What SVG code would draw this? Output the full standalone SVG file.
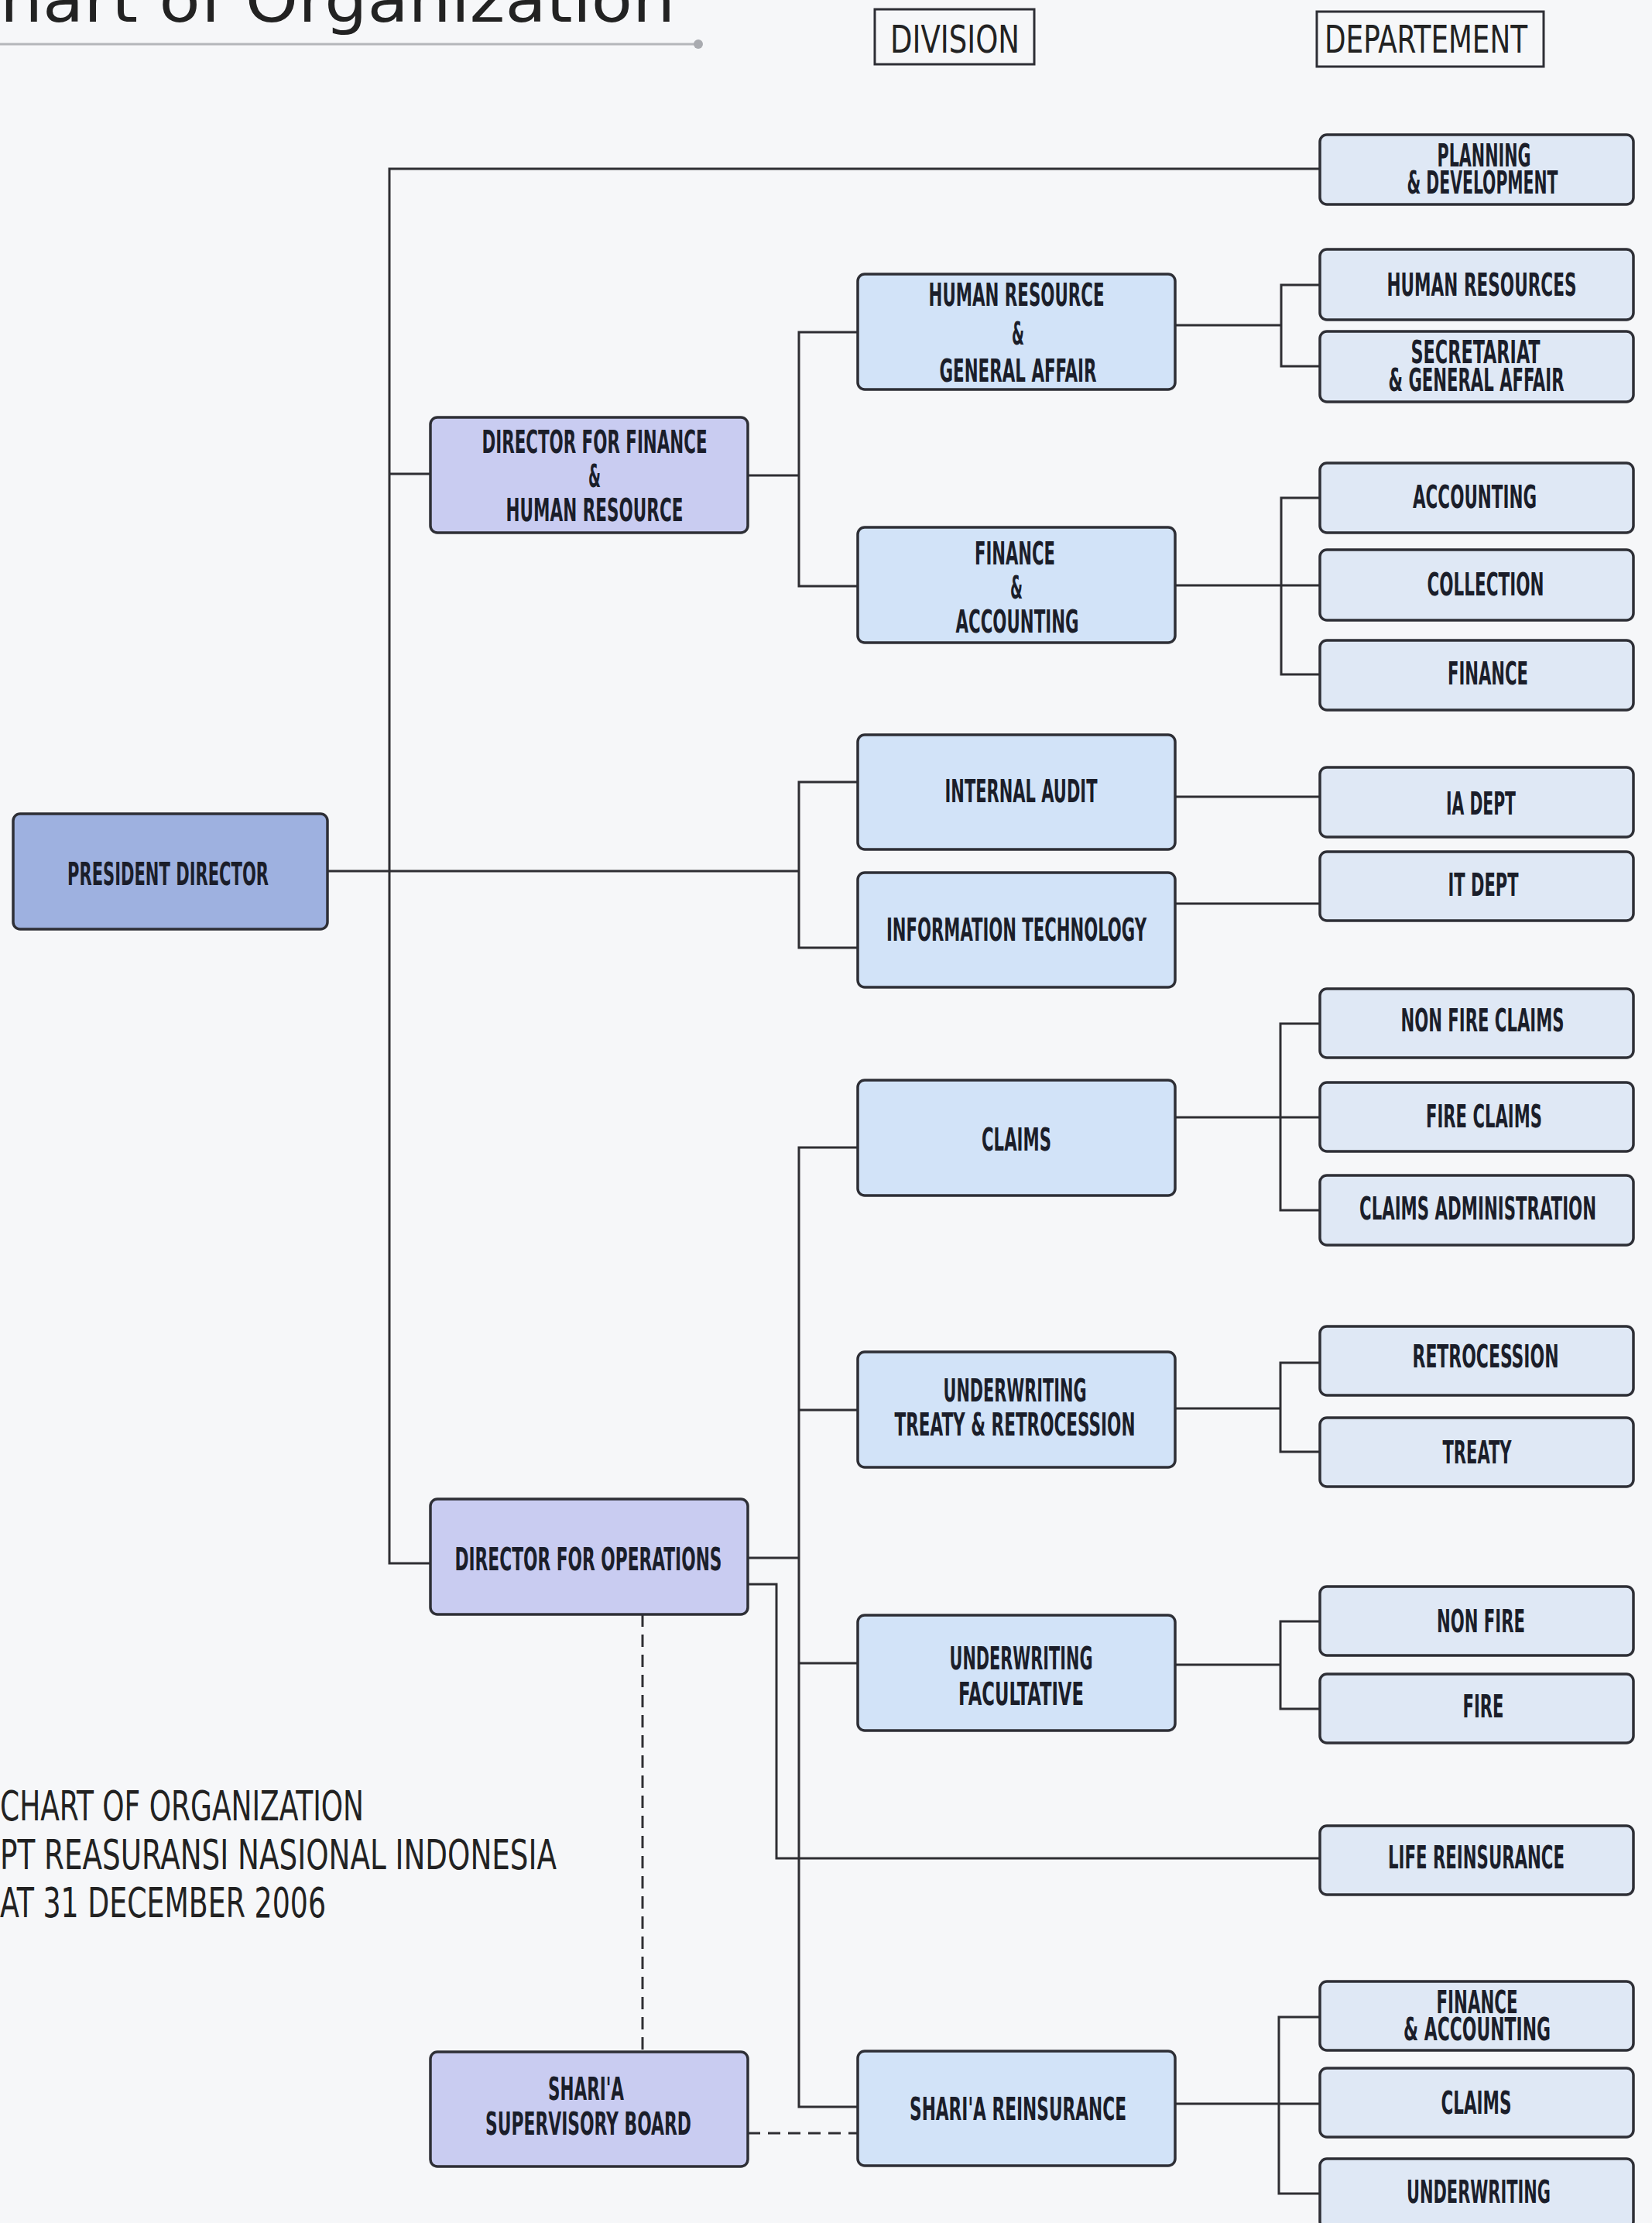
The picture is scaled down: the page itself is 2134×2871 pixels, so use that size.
<svg xmlns="http://www.w3.org/2000/svg" width="2134" height="2871" viewBox="0 0 2134 2871">
<style>
.bg{fill:#f6f7f9}
.box{stroke:#2e2f36;stroke-width:3.5}
.pres{fill:#9eb1e0}
.dir{fill:#c9ccf1}
.dv{fill:#d2e3f8}
.dp{fill:#dfe8f5}
.t{font-family:"DejaVu Sans Condensed","DejaVu Sans","Liberation Sans",sans-serif;font-weight:bold;font-size:41px;fill:#1b1e2a;text-anchor:middle}
.h{font-family:"DejaVu Sans Condensed","DejaVu Sans","Liberation Sans",sans-serif;font-weight:normal;fill:#222}
.c{fill:none;stroke:#2e2e33;stroke-width:3}
.d{fill:none;stroke:#2e2e33;stroke-width:3;stroke-dasharray:16 10}
.hb{fill:none;stroke:#2e2f36;stroke-width:3}
</style>
<rect class="bg" x="0" y="0" width="2134" height="2871"/>

<g id="title">
<text class="h" x="0" y="28" font-size="80" textLength="872" lengthAdjust="spacingAndGlyphs">hart of Organization</text>
<line x1="0" y1="57" x2="902" y2="57" stroke="#b4b6ba" stroke-width="3"/>
<circle cx="902" cy="57" r="6" fill="#a9abb0"/>
</g>

<g id="hdr-division">
<rect class="hb" x="1130" y="12" width="206" height="71"/>
<text class="h" x="1150" y="68" font-size="50" textLength="167" lengthAdjust="spacingAndGlyphs">DIVISION</text>
</g>
<g id="hdr-departement">
<rect class="hb" x="1701" y="15" width="293" height="71"/>
<text class="h" x="1711" y="68" font-size="50" textLength="262" lengthAdjust="spacingAndGlyphs">DEPARTEMENT</text>
</g>

<g id="caption">
<text class="h" x="0" y="2351" font-size="53" textLength="470" lengthAdjust="spacingAndGlyphs">CHART OF ORGANIZATION</text>
<text class="h" x="0" y="2414" font-size="53" textLength="719" lengthAdjust="spacingAndGlyphs">PT REASURANSI NASIONAL INDONESIA</text>
<text class="h" x="0" y="2476" font-size="53" textLength="421" lengthAdjust="spacingAndGlyphs">AT 31 DECEMBER 2006</text>
</g>

<g id="connectors">
<polyline class="c" points="1705,218 503,218 503,2019 556,2019"/>
<line class="c" x1="503" y1="612" x2="556" y2="612"/>
<line class="c" x1="423" y1="1125" x2="1032" y2="1125"/>
<polyline class="c" points="1109,1010 1032,1010 1032,1224 1109,1224"/>
<line class="c" x1="966" y1="614" x2="1032" y2="614"/>
<polyline class="c" points="1109,429 1032,429 1032,757 1109,757"/>
<line class="c" x1="1518" y1="420" x2="1655" y2="420"/>
<polyline class="c" points="1705,368 1655,368 1655,473 1705,473"/>
<line class="c" x1="1518" y1="756" x2="1705" y2="756"/>
<polyline class="c" points="1705,643 1655,643 1655,871 1705,871"/>
<line class="c" x1="1518" y1="1029" x2="1705" y2="1029"/>
<line class="c" x1="1518" y1="1167" x2="1705" y2="1167"/>
<line class="c" x1="966" y1="2012" x2="1032" y2="2012"/>
<polyline class="c" points="1108,1482 1032,1482 1032,2721 1108,2721"/>
<line class="c" x1="1518" y1="1443" x2="1705" y2="1443"/>
<polyline class="c" points="1705,1322 1654,1322 1654,1563 1705,1563"/>
<line class="c" x1="1032" y1="1821" x2="1108" y2="1821"/>
<line class="c" x1="1518" y1="1819" x2="1654" y2="1819"/>
<polyline class="c" points="1705,1760 1654,1760 1654,1875 1705,1875"/>
<line class="c" x1="1032" y1="2148" x2="1108" y2="2148"/>
<line class="c" x1="1518" y1="2150" x2="1654" y2="2150"/>
<polyline class="c" points="1705,2094 1654,2094 1654,2207 1705,2207"/>
<polyline class="c" points="966,2046 1003,2046 1003,2400 1705,2400"/>
<line class="c" x1="1518" y1="2717" x2="1705" y2="2717"/>
<polyline class="c" points="1705,2605 1652,2605 1652,2833 1705,2833"/>
<line class="d" x1="830" y1="2085" x2="830" y2="2650"/>
<line class="d" x1="966" y1="2755" x2="1108" y2="2755"/>
</g>

<g id="president">
<rect class="box pres" x="17" y="1051" width="406" height="149" rx="9"/>
<text class="t" x="217" y="1143" textLength="260" lengthAdjust="spacingAndGlyphs">PRESIDENT DIRECTOR</text>
</g>

<g id="dir-finance">
<rect class="box dir" x="556" y="539" width="410" height="149" rx="9"/>
<text class="t" x="768" y="585" textLength="291" lengthAdjust="spacingAndGlyphs">DIRECTOR FOR FINANCE</text>
<text class="t" x="768" y="629" textLength="16" lengthAdjust="spacingAndGlyphs">&amp;</text>
<text class="t" x="768" y="673" textLength="229" lengthAdjust="spacingAndGlyphs">HUMAN RESOURCE</text>
</g>
<g id="dir-operations">
<rect class="box dir" x="556" y="1936" width="410" height="149" rx="9"/>
<text class="t" x="760" y="2028" textLength="345" lengthAdjust="spacingAndGlyphs">DIRECTOR FOR OPERATIONS</text>
</g>
<g id="sharia-board">
<rect class="box dir" x="556" y="2650" width="410" height="148" rx="9"/>
<text class="t" x="757" y="2712" textLength="98" lengthAdjust="spacingAndGlyphs">SHARI'A</text>
<text class="t" x="760" y="2757" textLength="266" lengthAdjust="spacingAndGlyphs">SUPERVISORY BOARD</text>
</g>

<g id="div-hrga">
<rect class="box dv" x="1108" y="354" width="410" height="149" rx="9"/>
<text class="t" x="1313" y="395" textLength="227" lengthAdjust="spacingAndGlyphs">HUMAN RESOURCE</text>
<text class="t" x="1315" y="445" textLength="16" lengthAdjust="spacingAndGlyphs">&amp;</text>
<text class="t" x="1315" y="493" textLength="203" lengthAdjust="spacingAndGlyphs">GENERAL AFFAIR</text>
</g>
<g id="div-fa">
<rect class="box dv" x="1108" y="681" width="410" height="149" rx="9"/>
<text class="t" x="1311" y="729" textLength="104" lengthAdjust="spacingAndGlyphs">FINANCE</text>
<text class="t" x="1313" y="773" textLength="16" lengthAdjust="spacingAndGlyphs">&amp;</text>
<text class="t" x="1314" y="817" textLength="159" lengthAdjust="spacingAndGlyphs">ACCOUNTING</text>
</g>
<g id="div-ia">
<rect class="box dv" x="1108" y="949" width="410" height="148" rx="9"/>
<text class="t" x="1319" y="1036" textLength="197" lengthAdjust="spacingAndGlyphs">INTERNAL AUDIT</text>
</g>
<g id="div-it">
<rect class="box dv" x="1108" y="1127" width="410" height="148" rx="9"/>
<text class="t" x="1313" y="1215" textLength="336" lengthAdjust="spacingAndGlyphs">INFORMATION TECHNOLOGY</text>
</g>
<g id="div-claims">
<rect class="box dv" x="1108" y="1395" width="410" height="149" rx="9"/>
<text class="t" x="1313" y="1486" textLength="90" lengthAdjust="spacingAndGlyphs">CLAIMS</text>
</g>
<g id="div-uw-treaty">
<rect class="box dv" x="1108" y="1746" width="410" height="149" rx="9"/>
<text class="t" x="1311" y="1810" textLength="185" lengthAdjust="spacingAndGlyphs">UNDERWRITING</text>
<text class="t" x="1311" y="1854" textLength="311" lengthAdjust="spacingAndGlyphs">TREATY &amp; RETROCESSION</text>
</g>
<g id="div-uw-fac">
<rect class="box dv" x="1108" y="2086" width="410" height="149" rx="9"/>
<text class="t" x="1319" y="2156" textLength="185" lengthAdjust="spacingAndGlyphs">UNDERWRITING</text>
<text class="t" x="1319" y="2202" textLength="162" lengthAdjust="spacingAndGlyphs">FACULTATIVE</text>
</g>
<g id="div-sharia">
<rect class="box dv" x="1108" y="2649" width="410" height="148" rx="9"/>
<text class="t" x="1315" y="2738" textLength="280" lengthAdjust="spacingAndGlyphs">SHARI'A REINSURANCE</text>
</g>

<g id="dep-planning">
<rect class="box dp" x="1705" y="174" width="405" height="90" rx="9"/>
<text class="t" x="1917" y="215" textLength="121" lengthAdjust="spacingAndGlyphs">PLANNING</text>
<text class="t" x="1915" y="250" textLength="195" lengthAdjust="spacingAndGlyphs">&amp; DEVELOPMENT</text>
</g>
<g id="dep-hr">
<rect class="box dp" x="1705" y="322" width="405" height="91" rx="9"/>
<text class="t" x="1914" y="382" textLength="245" lengthAdjust="spacingAndGlyphs">HUMAN RESOURCES</text>
</g>
<g id="dep-secretariat">
<rect class="box dp" x="1705" y="428" width="405" height="91" rx="9"/>
<text class="t" x="1906" y="469" textLength="167" lengthAdjust="spacingAndGlyphs">SECRETARIAT</text>
<text class="t" x="1907" y="505" textLength="227" lengthAdjust="spacingAndGlyphs">&amp; GENERAL AFFAIR</text>
</g>
<g id="dep-accounting">
<rect class="box dp" x="1705" y="598" width="405" height="90" rx="9"/>
<text class="t" x="1905" y="656" textLength="160" lengthAdjust="spacingAndGlyphs">ACCOUNTING</text>
</g>
<g id="dep-collection">
<rect class="box dp" x="1705" y="710" width="405" height="91" rx="9"/>
<text class="t" x="1919" y="769" textLength="151" lengthAdjust="spacingAndGlyphs">COLLECTION</text>
</g>
<g id="dep-finance">
<rect class="box dp" x="1705" y="827" width="405" height="90" rx="9"/>
<text class="t" x="1922" y="884" textLength="104" lengthAdjust="spacingAndGlyphs">FINANCE</text>
</g>
<g id="dep-ia">
<rect class="box dp" x="1705" y="991" width="405" height="90" rx="9"/>
<text class="t" x="1913" y="1052" textLength="90" lengthAdjust="spacingAndGlyphs">IA DEPT</text>
</g>
<g id="dep-it">
<rect class="box dp" x="1705" y="1100" width="405" height="89" rx="9"/>
<text class="t" x="1916" y="1157" textLength="91" lengthAdjust="spacingAndGlyphs">IT DEPT</text>
</g>
<g id="dep-nonfire-claims">
<rect class="box dp" x="1705" y="1277" width="405" height="89" rx="9"/>
<text class="t" x="1915" y="1332" textLength="211" lengthAdjust="spacingAndGlyphs">NON FIRE CLAIMS</text>
</g>
<g id="dep-fire-claims">
<rect class="box dp" x="1705" y="1398" width="405" height="89" rx="9"/>
<text class="t" x="1917" y="1456" textLength="150" lengthAdjust="spacingAndGlyphs">FIRE CLAIMS</text>
</g>
<g id="dep-claims-admin">
<rect class="box dp" x="1705" y="1518" width="405" height="90" rx="9"/>
<text class="t" x="1909" y="1575" textLength="306" lengthAdjust="spacingAndGlyphs">CLAIMS ADMINISTRATION</text>
</g>
<g id="dep-retrocession">
<rect class="box dp" x="1705" y="1713" width="405" height="89" rx="9"/>
<text class="t" x="1919" y="1766" textLength="189" lengthAdjust="spacingAndGlyphs">RETROCESSION</text>
</g>
<g id="dep-treaty">
<rect class="box dp" x="1705" y="1831" width="405" height="89" rx="9"/>
<text class="t" x="1908" y="1890" textLength="89" lengthAdjust="spacingAndGlyphs">TREATY</text>
</g>
<g id="dep-nonfire">
<rect class="box dp" x="1705" y="2049" width="405" height="89" rx="9"/>
<text class="t" x="1913" y="2108" textLength="114" lengthAdjust="spacingAndGlyphs">NON FIRE</text>
</g>
<g id="dep-fire">
<rect class="box dp" x="1705" y="2162" width="405" height="89" rx="9"/>
<text class="t" x="1916" y="2218" textLength="53" lengthAdjust="spacingAndGlyphs">FIRE</text>
</g>
<g id="dep-life">
<rect class="box dp" x="1705" y="2358" width="405" height="89" rx="9"/>
<text class="t" x="1907" y="2413" textLength="228" lengthAdjust="spacingAndGlyphs">LIFE REINSURANCE</text>
</g>
<g id="dep-sharia-fa">
<rect class="box dp" x="1705" y="2559" width="405" height="89" rx="9"/>
<text class="t" x="1908" y="2600" textLength="105" lengthAdjust="spacingAndGlyphs">FINANCE</text>
<text class="t" x="1908" y="2635" textLength="190" lengthAdjust="spacingAndGlyphs">&amp; ACCOUNTING</text>
</g>
<g id="dep-sharia-claims">
<rect class="box dp" x="1705" y="2671" width="405" height="89" rx="9"/>
<text class="t" x="1907" y="2730" textLength="91" lengthAdjust="spacingAndGlyphs">CLAIMS</text>
</g>
<g id="dep-sharia-uw">
<rect class="box dp" x="1705" y="2788" width="405" height="90" rx="9"/>
<text class="t" x="1910" y="2845" textLength="186" lengthAdjust="spacingAndGlyphs">UNDERWRITING</text>
</g>
</svg>
